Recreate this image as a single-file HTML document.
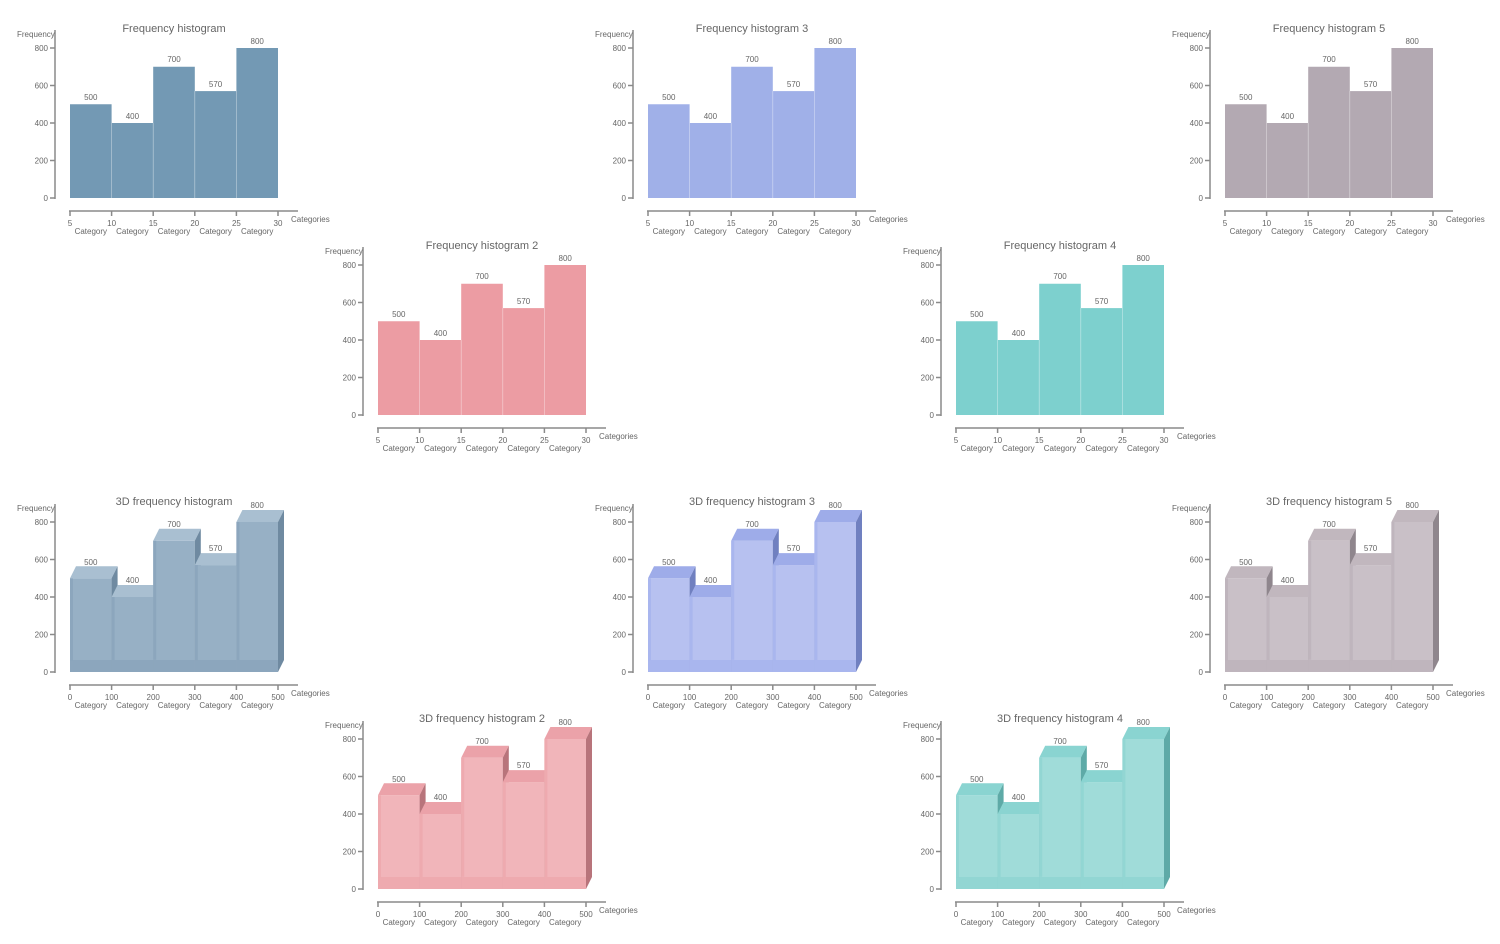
<!DOCTYPE html>
<html><head><meta charset="utf-8"><style>
body{margin:0;background:#fff}
svg{display:block;font-family:"Liberation Sans",sans-serif}
.t{font-size:11px;fill:#666;text-anchor:middle}
.s{font-size:8px;fill:#666}
.m{text-anchor:middle}.e{text-anchor:end}
.ax{stroke:#8a8a8a;stroke-width:1.5;fill:none}
.div{stroke:rgba(255,255,255,.35);stroke-width:.8}
.fr{fill:var(--fr)}.tp{fill:var(--tp)}.sd{fill:var(--sd)}.bd{fill:var(--bd)}
.c1{--fr:#97b0c5;--tp:#a9bfd1;--sd:#6f8aa1;--bd:#88a3b9}
.c3{--fr:#b7c1f0;--tp:#9eace9;--sd:#7080c0;--bd:#a3b1ec}
.c5{--fr:#c9c0c7;--tp:#c1b7be;--sd:#8f868d;--bd:#bbb1b9}
.c2{--fr:#f1b5ba;--tp:#eba2a9;--sd:#b8747b;--bd:#eca5ab}
.c4{--fr:#a0dcd9;--tp:#8ad4d1;--sd:#5eaaa7;--bd:#8bd3d0}
</style></head><body>
<svg width="1500" height="944" viewBox="0 0 1500 944">
<defs>
<g id="axes">
<path class="ax" d="M55 30V199M50 198H55M50 160.5H55M50 123H55M50 85.5H55M50 48H55M69 211H298M70 211V216M111.6 211V216M153.2 211V216M194.8 211V216M236.4 211V216M278 211V216"/>
</g>
<g id="b3">
<rect class="fr" x="70" y="104.25" width="41.6" height="93.75"/>
<path class="tp" d="M70 104.25l6-12h41.6l-6 12z"/>
<path class="sd" d="M111.6 104.25l6-12V186l-6 12z"/>
<rect class="fr" x="111.6" y="123" width="41.6" height="75"/>
<path class="tp" d="M111.6 123l6-12h41.6l-6 12z"/>
<path class="sd" d="M153.2 123l6-12V186l-6 12z"/>
<rect class="fr" x="153.2" y="66.75" width="41.6" height="131.25"/>
<path class="tp" d="M153.2 66.75l6-12h41.6l-6 12z"/>
<path class="sd" d="M194.8 66.75l6-12V186l-6 12z"/>
<rect class="fr" x="194.8" y="91.1" width="41.6" height="106.9"/>
<path class="tp" d="M194.8 91.1l6-12h41.6l-6 12z"/>
<path class="sd" d="M236.4 91.1l6-12V186l-6 12z"/>
<rect class="fr" x="236.4" y="48" width="41.6" height="150"/>
<path class="tp" d="M236.4 48l6-12h41.6l-6 12z"/>
<path class="sd" d="M278 48l6-12V186l-6 12z"/>
<rect class="bd" x="70" y="186" width="208" height="12" opacity=".7"/>
<path class="bd" opacity=".7" d="M70 104.25h3v82h-3zM111.6 123h3v63h-3zM153.2 66.75h3v119h-3zM194.8 91.1h3v95h-3zM236.4 48h3v138h-3z"/>
</g>
</defs>

<g transform="translate(0,0)">
<text class="t" x="174" y="32">Frequency histogram</text>
<g fill="#7399b4"><rect x="70" y="104.25" width="41.6" height="93.75"/><rect x="111.6" y="123" width="41.6" height="75"/><rect x="153.2" y="66.75" width="41.6" height="131.25"/><rect x="194.8" y="91.1" width="41.6" height="106.9"/><rect x="236.4" y="48" width="41.6" height="150"/></g>
<path class="div" d="M111.6 123V198M153.2 123V198M194.8 91V198M236.4 91V198"/>
<use href="#axes"/>
<g class="s"><text x="17" y="37">Frequency</text><text class="e" x="48" y="201">0</text><text class="e" x="48" y="163.5">200</text><text class="e" x="48" y="126">400</text><text class="e" x="48" y="88.5">600</text><text class="e" x="48" y="51">800</text>
<text class="m" x="90.8" y="100">500</text><text class="m" x="132.4" y="119">400</text><text class="m" x="174" y="62">700</text><text class="m" x="215.6" y="87">570</text><text class="m" x="257.2" y="44">800</text>
<text class="m" x="70" y="226">5</text><text class="m" x="111.6" y="226">10</text><text class="m" x="153.2" y="226">15</text><text class="m" x="194.8" y="226">20</text><text class="m" x="236.4" y="226">25</text><text class="m" x="278" y="226">30</text>
<text class="m" x="90.8" y="234">Category</text><text class="m" x="132.4" y="234">Category</text><text class="m" x="174" y="234">Category</text><text class="m" x="215.6" y="234">Category</text><text class="m" x="257.2" y="234">Category</text><text x="291" y="222">Categories</text></g>
</g>

<g transform="translate(578,0)">
<text class="t" x="174" y="32">Frequency histogram 3</text>
<g fill="#a0b0e8"><rect x="70" y="104.25" width="41.6" height="93.75"/><rect x="111.6" y="123" width="41.6" height="75"/><rect x="153.2" y="66.75" width="41.6" height="131.25"/><rect x="194.8" y="91.1" width="41.6" height="106.9"/><rect x="236.4" y="48" width="41.6" height="150"/></g>
<path class="div" d="M111.6 123V198M153.2 123V198M194.8 91V198M236.4 91V198"/>
<use href="#axes"/>
<g class="s"><text x="17" y="37">Frequency</text><text class="e" x="48" y="201">0</text><text class="e" x="48" y="163.5">200</text><text class="e" x="48" y="126">400</text><text class="e" x="48" y="88.5">600</text><text class="e" x="48" y="51">800</text>
<text class="m" x="90.8" y="100">500</text><text class="m" x="132.4" y="119">400</text><text class="m" x="174" y="62">700</text><text class="m" x="215.6" y="87">570</text><text class="m" x="257.2" y="44">800</text>
<text class="m" x="70" y="226">5</text><text class="m" x="111.6" y="226">10</text><text class="m" x="153.2" y="226">15</text><text class="m" x="194.8" y="226">20</text><text class="m" x="236.4" y="226">25</text><text class="m" x="278" y="226">30</text>
<text class="m" x="90.8" y="234">Category</text><text class="m" x="132.4" y="234">Category</text><text class="m" x="174" y="234">Category</text><text class="m" x="215.6" y="234">Category</text><text class="m" x="257.2" y="234">Category</text><text x="291" y="222">Categories</text></g>
</g>

<g transform="translate(1155,0)">
<text class="t" x="174" y="32">Frequency histogram 5</text>
<g fill="#b3a9b2"><rect x="70" y="104.25" width="41.6" height="93.75"/><rect x="111.6" y="123" width="41.6" height="75"/><rect x="153.2" y="66.75" width="41.6" height="131.25"/><rect x="194.8" y="91.1" width="41.6" height="106.9"/><rect x="236.4" y="48" width="41.6" height="150"/></g>
<path class="div" d="M111.6 123V198M153.2 123V198M194.8 91V198M236.4 91V198"/>
<use href="#axes"/>
<g class="s"><text x="17" y="37">Frequency</text><text class="e" x="48" y="201">0</text><text class="e" x="48" y="163.5">200</text><text class="e" x="48" y="126">400</text><text class="e" x="48" y="88.5">600</text><text class="e" x="48" y="51">800</text>
<text class="m" x="90.8" y="100">500</text><text class="m" x="132.4" y="119">400</text><text class="m" x="174" y="62">700</text><text class="m" x="215.6" y="87">570</text><text class="m" x="257.2" y="44">800</text>
<text class="m" x="70" y="226">5</text><text class="m" x="111.6" y="226">10</text><text class="m" x="153.2" y="226">15</text><text class="m" x="194.8" y="226">20</text><text class="m" x="236.4" y="226">25</text><text class="m" x="278" y="226">30</text>
<text class="m" x="90.8" y="234">Category</text><text class="m" x="132.4" y="234">Category</text><text class="m" x="174" y="234">Category</text><text class="m" x="215.6" y="234">Category</text><text class="m" x="257.2" y="234">Category</text><text x="291" y="222">Categories</text></g>
</g>

<g transform="translate(308,217)">
<text class="t" x="174" y="32">Frequency histogram 2</text>
<g fill="#ec9ca3"><rect x="70" y="104.25" width="41.6" height="93.75"/><rect x="111.6" y="123" width="41.6" height="75"/><rect x="153.2" y="66.75" width="41.6" height="131.25"/><rect x="194.8" y="91.1" width="41.6" height="106.9"/><rect x="236.4" y="48" width="41.6" height="150"/></g>
<path class="div" d="M111.6 123V198M153.2 123V198M194.8 91V198M236.4 91V198"/>
<use href="#axes"/>
<g class="s"><text x="17" y="37">Frequency</text><text class="e" x="48" y="201">0</text><text class="e" x="48" y="163.5">200</text><text class="e" x="48" y="126">400</text><text class="e" x="48" y="88.5">600</text><text class="e" x="48" y="51">800</text>
<text class="m" x="90.8" y="100">500</text><text class="m" x="132.4" y="119">400</text><text class="m" x="174" y="62">700</text><text class="m" x="215.6" y="87">570</text><text class="m" x="257.2" y="44">800</text>
<text class="m" x="70" y="226">5</text><text class="m" x="111.6" y="226">10</text><text class="m" x="153.2" y="226">15</text><text class="m" x="194.8" y="226">20</text><text class="m" x="236.4" y="226">25</text><text class="m" x="278" y="226">30</text>
<text class="m" x="90.8" y="234">Category</text><text class="m" x="132.4" y="234">Category</text><text class="m" x="174" y="234">Category</text><text class="m" x="215.6" y="234">Category</text><text class="m" x="257.2" y="234">Category</text><text x="291" y="222">Categories</text></g>
</g>

<g transform="translate(886,217)">
<text class="t" x="174" y="32">Frequency histogram 4</text>
<g fill="#7dd0ce"><rect x="70" y="104.25" width="41.6" height="93.75"/><rect x="111.6" y="123" width="41.6" height="75"/><rect x="153.2" y="66.75" width="41.6" height="131.25"/><rect x="194.8" y="91.1" width="41.6" height="106.9"/><rect x="236.4" y="48" width="41.6" height="150"/></g>
<path class="div" d="M111.6 123V198M153.2 123V198M194.8 91V198M236.4 91V198"/>
<use href="#axes"/>
<g class="s"><text x="17" y="37">Frequency</text><text class="e" x="48" y="201">0</text><text class="e" x="48" y="163.5">200</text><text class="e" x="48" y="126">400</text><text class="e" x="48" y="88.5">600</text><text class="e" x="48" y="51">800</text>
<text class="m" x="90.8" y="100">500</text><text class="m" x="132.4" y="119">400</text><text class="m" x="174" y="62">700</text><text class="m" x="215.6" y="87">570</text><text class="m" x="257.2" y="44">800</text>
<text class="m" x="70" y="226">5</text><text class="m" x="111.6" y="226">10</text><text class="m" x="153.2" y="226">15</text><text class="m" x="194.8" y="226">20</text><text class="m" x="236.4" y="226">25</text><text class="m" x="278" y="226">30</text>
<text class="m" x="90.8" y="234">Category</text><text class="m" x="132.4" y="234">Category</text><text class="m" x="174" y="234">Category</text><text class="m" x="215.6" y="234">Category</text><text class="m" x="257.2" y="234">Category</text><text x="291" y="222">Categories</text></g>
</g>

<g transform="translate(0,474)" class="c1">
<text class="t" x="174" y="31">3D frequency histogram</text>
<use href="#b3"/><use href="#axes"/>
<g class="s"><text x="17" y="37">Frequency</text><text class="e" x="48" y="201">0</text><text class="e" x="48" y="163.5">200</text><text class="e" x="48" y="126">400</text><text class="e" x="48" y="88.5">600</text><text class="e" x="48" y="51">800</text>
<text class="m" x="90.8" y="91">500</text><text class="m" x="132.4" y="109">400</text><text class="m" x="174" y="53">700</text><text class="m" x="215.6" y="77">570</text><text class="m" x="257.2" y="34">800</text>
<text class="m" x="70" y="226">0</text><text class="m" x="111.6" y="226">100</text><text class="m" x="153.2" y="226">200</text><text class="m" x="194.8" y="226">300</text><text class="m" x="236.4" y="226">400</text><text class="m" x="278" y="226">500</text>
<text class="m" x="90.8" y="234">Category</text><text class="m" x="132.4" y="234">Category</text><text class="m" x="174" y="234">Category</text><text class="m" x="215.6" y="234">Category</text><text class="m" x="257.2" y="234">Category</text><text x="291" y="222">Categories</text></g>
</g>

<g transform="translate(578,474)" class="c3">
<text class="t" x="174" y="31">3D frequency histogram 3</text>
<use href="#b3"/><use href="#axes"/>
<g class="s"><text x="17" y="37">Frequency</text><text class="e" x="48" y="201">0</text><text class="e" x="48" y="163.5">200</text><text class="e" x="48" y="126">400</text><text class="e" x="48" y="88.5">600</text><text class="e" x="48" y="51">800</text>
<text class="m" x="90.8" y="91">500</text><text class="m" x="132.4" y="109">400</text><text class="m" x="174" y="53">700</text><text class="m" x="215.6" y="77">570</text><text class="m" x="257.2" y="34">800</text>
<text class="m" x="70" y="226">0</text><text class="m" x="111.6" y="226">100</text><text class="m" x="153.2" y="226">200</text><text class="m" x="194.8" y="226">300</text><text class="m" x="236.4" y="226">400</text><text class="m" x="278" y="226">500</text>
<text class="m" x="90.8" y="234">Category</text><text class="m" x="132.4" y="234">Category</text><text class="m" x="174" y="234">Category</text><text class="m" x="215.6" y="234">Category</text><text class="m" x="257.2" y="234">Category</text><text x="291" y="222">Categories</text></g>
</g>

<g transform="translate(1155,474)" class="c5">
<text class="t" x="174" y="31">3D frequency histogram 5</text>
<use href="#b3"/><use href="#axes"/>
<g class="s"><text x="17" y="37">Frequency</text><text class="e" x="48" y="201">0</text><text class="e" x="48" y="163.5">200</text><text class="e" x="48" y="126">400</text><text class="e" x="48" y="88.5">600</text><text class="e" x="48" y="51">800</text>
<text class="m" x="90.8" y="91">500</text><text class="m" x="132.4" y="109">400</text><text class="m" x="174" y="53">700</text><text class="m" x="215.6" y="77">570</text><text class="m" x="257.2" y="34">800</text>
<text class="m" x="70" y="226">0</text><text class="m" x="111.6" y="226">100</text><text class="m" x="153.2" y="226">200</text><text class="m" x="194.8" y="226">300</text><text class="m" x="236.4" y="226">400</text><text class="m" x="278" y="226">500</text>
<text class="m" x="90.8" y="234">Category</text><text class="m" x="132.4" y="234">Category</text><text class="m" x="174" y="234">Category</text><text class="m" x="215.6" y="234">Category</text><text class="m" x="257.2" y="234">Category</text><text x="291" y="222">Categories</text></g>
</g>

<g transform="translate(308,691)" class="c2">
<text class="t" x="174" y="31">3D frequency histogram 2</text>
<use href="#b3"/><use href="#axes"/>
<g class="s"><text x="17" y="37">Frequency</text><text class="e" x="48" y="201">0</text><text class="e" x="48" y="163.5">200</text><text class="e" x="48" y="126">400</text><text class="e" x="48" y="88.5">600</text><text class="e" x="48" y="51">800</text>
<text class="m" x="90.8" y="91">500</text><text class="m" x="132.4" y="109">400</text><text class="m" x="174" y="53">700</text><text class="m" x="215.6" y="77">570</text><text class="m" x="257.2" y="34">800</text>
<text class="m" x="70" y="226">0</text><text class="m" x="111.6" y="226">100</text><text class="m" x="153.2" y="226">200</text><text class="m" x="194.8" y="226">300</text><text class="m" x="236.4" y="226">400</text><text class="m" x="278" y="226">500</text>
<text class="m" x="90.8" y="234">Category</text><text class="m" x="132.4" y="234">Category</text><text class="m" x="174" y="234">Category</text><text class="m" x="215.6" y="234">Category</text><text class="m" x="257.2" y="234">Category</text><text x="291" y="222">Categories</text></g>
</g>

<g transform="translate(886,691)" class="c4">
<text class="t" x="174" y="31">3D frequency histogram 4</text>
<use href="#b3"/><use href="#axes"/>
<g class="s"><text x="17" y="37">Frequency</text><text class="e" x="48" y="201">0</text><text class="e" x="48" y="163.5">200</text><text class="e" x="48" y="126">400</text><text class="e" x="48" y="88.5">600</text><text class="e" x="48" y="51">800</text>
<text class="m" x="90.8" y="91">500</text><text class="m" x="132.4" y="109">400</text><text class="m" x="174" y="53">700</text><text class="m" x="215.6" y="77">570</text><text class="m" x="257.2" y="34">800</text>
<text class="m" x="70" y="226">0</text><text class="m" x="111.6" y="226">100</text><text class="m" x="153.2" y="226">200</text><text class="m" x="194.8" y="226">300</text><text class="m" x="236.4" y="226">400</text><text class="m" x="278" y="226">500</text>
<text class="m" x="90.8" y="234">Category</text><text class="m" x="132.4" y="234">Category</text><text class="m" x="174" y="234">Category</text><text class="m" x="215.6" y="234">Category</text><text class="m" x="257.2" y="234">Category</text><text x="291" y="222">Categories</text></g>
</g>
</svg>
</body></html>
